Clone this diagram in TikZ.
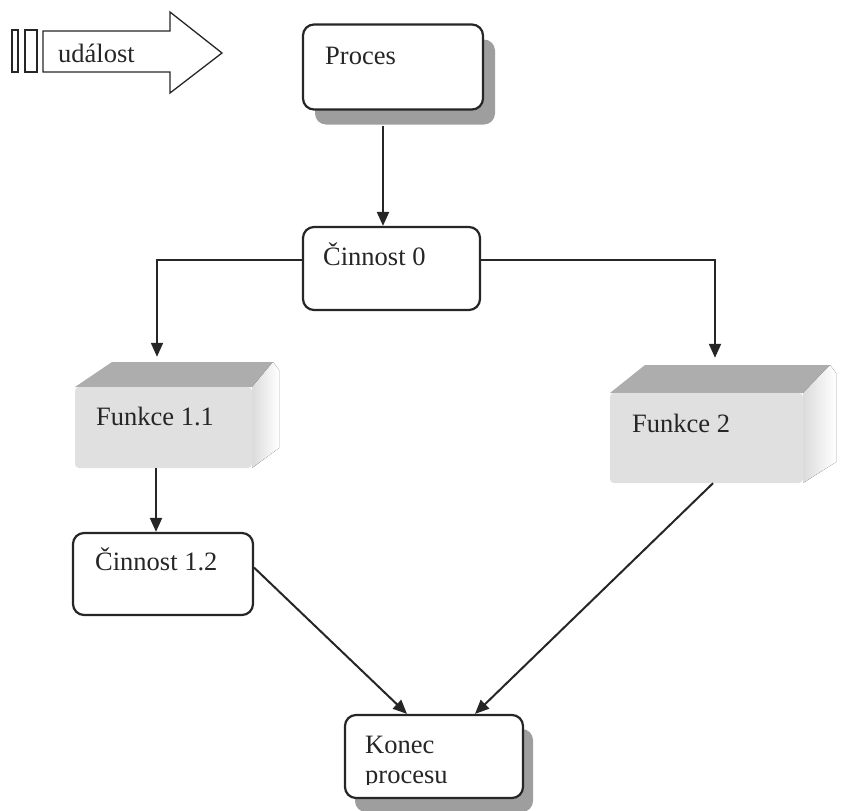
\documentclass[tikz,border=0pt]{standalone}
\usepackage{fontspec}
\setmainfont{Liberation Serif}
\usetikzlibrary{arrows.meta,calc,shadows}
\begin{document}
\begin{tikzpicture}[x=1pt,y=-1pt,
  txt/.style={font=\fontsize{26.5}{30}\selectfont, inner sep=0pt, anchor=base west, text=black!85},
  roundbox/.style={draw=black!85, line width=2.2pt, rounded corners=11pt, fill=white},
  shadowA/.style={drop shadow={shadow xshift=12pt, shadow yshift=-15pt, fill=black!38, opacity=1}},
  shadowB/.style={drop shadow={shadow xshift=10pt, shadow yshift=-14pt, fill=black!38, opacity=1}},
  frontface/.style={fill=black!12, rounded corners=4pt, inner sep=0pt},
  topface/.style={fill=black!32},
  sideface/.style={left color=black!14, right color=white},
  conn/.style={draw=black!85, line width=2pt, -{Triangle[length=14pt,width=12pt]}},
  eventline/.style={draw=black!85, line width=1.3pt, fill=white}]
\useasboundingbox (0,0) rectangle (863,811);

% incoming event: two bars and a block arrow
\draw[eventline] (12,30) rectangle (18,72);
\draw[eventline] (25,30) rectangle (37,72);
\draw[eventline] (43,31) -- (170,31) -- (170,12) -- (222,53) -- (170,93) -- (170,72) -- (43,72) -- cycle;
\node[txt] (t-event) at (58,62) {událost};

% process box
\node[roundbox, shadowA, minimum width=180, minimum height=85] (proces) at (393,67) {};
\node[txt] (t-proces) at (325,64) {Proces};

% activity 0
\node[roundbox, minimum width=177, minimum height=83] (c0) at (391.5,268.5) {};
\node[txt] (t-c0) at (323,265) {Činnost 0};

% function 1.1 (block)
\fill[topface] (75,387) -- (112,362) -- (273,362) -- (252,387) -- cycle;
\fill[sideface] (252,387) -- (273,362) -- (279,370) -- (279,448) -- (252,468) -- cycle;
\node[frontface, minimum width=177, minimum height=81] (f11) at (163.5,427.5) {};
\node[txt] (t-f11) at (96,425) {Funkce 1.1};

% function 2 (block)
\fill[topface] (610,393) -- (645,365) -- (830,365) -- (803,393) -- cycle;
\fill[sideface] (803,393) -- (830,365) -- (836,373) -- (836,462) -- (803,483) -- cycle;
\node[frontface, minimum width=193, minimum height=90] (f2) at (706.5,438) {};
\node[txt] (t-f2) at (632,432) {Funkce 2};

% activity 1.2
\node[roundbox, minimum width=180, minimum height=82] (c12) at (163,574) {};
\node[txt] (t-c12) at (95,570) {Činnost 1.2};

% end of process
\node[roundbox, shadowB, minimum width=178, minimum height=83] (konec) at (434,756.5) {};
\node[txt] (t-konec) at (365,753) {Konec};
\begin{scope}
  \clip (340,758) rectangle (530,784.5);
  \node[txt] (t-procesu) at (365,783) {procesu};
\end{scope}

% connectors
\draw[conn] ($(proces.south)+(-10,15)$) -- ($(c0.north)+(-8.5,0)$);
\draw[conn] ($(c0.west)+(0,-8.5)$) -| ($(f11.north)+(-6.5,-30)$);
\draw[conn] ($(c0.east)+(0,-8.5)$) -| ($(f2.north)+(8.5,-35)$);
\draw[conn] ($(f11.south)+(-7.5,0)$) -- ($(c12.north)+(-7,0)$);
\draw[conn] (c12.4) -- ($(konec.north)+(-27,0)$);
\draw[conn] ($(f2.south)+(6.5,0)$) -- ($(konec.north)+(41,0)$);
\end{tikzpicture}
\end{document}
